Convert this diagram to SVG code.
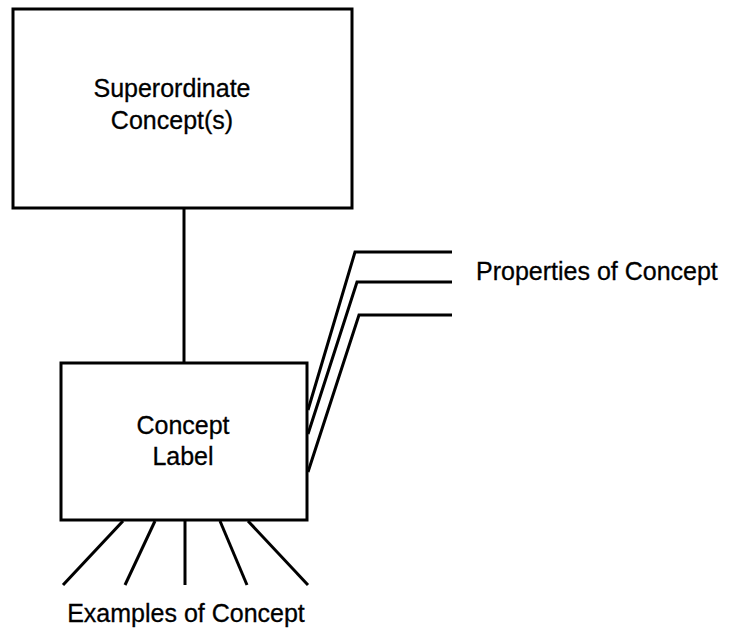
<svg xmlns="http://www.w3.org/2000/svg" width="735" height="632" viewBox="0 0 735 632">
<style>
.box{fill:#fff;stroke:#000;stroke-width:3}
.ln{fill:none;stroke:#000;stroke-width:3;stroke-linejoin:miter}
.t{font-family:"Liberation Sans",Arial,sans-serif;font-size:25px;fill:#000;stroke:#000;stroke-width:0.3}
</style>
<rect width="735" height="632" fill="#fff"/>
<g id="connectors">
<line class="ln" x1="184" y1="208" x2="184" y2="363"/>
<polyline class="ln" points="452,252 355,252 308,410"/>
<polyline class="ln" points="452,282 357,282 308,434"/>
<polyline class="ln" points="452,315 359,315 308,472"/>
<line class="ln" x1="123" y1="521" x2="63" y2="585"/>
<line class="ln" x1="155" y1="521" x2="125" y2="585"/>
<line class="ln" x1="185" y1="521" x2="185" y2="585"/>
<line class="ln" x1="220" y1="521" x2="247" y2="585"/>
<line class="ln" x1="248" y1="521" x2="308" y2="585"/>
</g>
<g id="superordinate">
<rect class="box" x="13" y="9" width="339" height="199"/>
<text class="t" x="172" y="97" text-anchor="middle">Superordinate</text>
<text class="t" x="172" y="129" text-anchor="middle">Concept(s)</text>
</g>
<g id="concept">
<rect class="box" x="61" y="363" width="246" height="157"/>
<text class="t" x="183" y="434" text-anchor="middle">Concept</text>
<text class="t" x="183" y="465" text-anchor="middle">Label</text>
</g>
<g id="properties">
<text class="t" x="476" y="280">Properties of Concept</text>
</g>
<g id="examples">
<text class="t" x="186" y="622" text-anchor="middle">Examples of Concept</text>
</g>
</svg>
